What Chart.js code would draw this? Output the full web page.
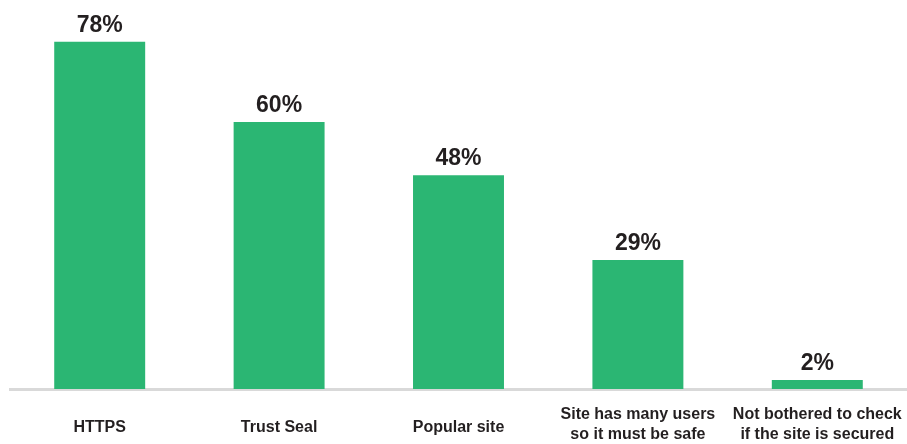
<!DOCTYPE html>
<html>
<head>
<meta charset="utf-8">
<script src="https://cdn.jsdelivr.net/npm/chart.js@4"></script>
<style>
  html, body { margin: 0; padding: 0; background: #ffffff; }
  #wrap { width: 907px; height: 444px; position: relative; }
</style>
</head>
<body>
<div id="wrap"><canvas id="chart"></canvas></div>
<script>
// Security signals people look for before trusting a site
const categories = [
  'HTTPS',
  'Trust Seal',
  'Popular site',
  ['Site has many users', 'so it must be safe'],
  ['Not bothered to check', 'if the site is secured']
];
const shares = [78, 60, 48, 29, 2];

const BAR_GREEN = '#2bb673';
const TEXT_DARK = '#231f20';
const FONT_FAMILY = '"Liberation Sans", Arial, Helvetica, sans-serif';

// Writes each bar's percentage just above it
const valueLabels = {
  id: 'valueLabels',
  afterDatasetsDraw(chart) {
    const { ctx } = chart;
    const meta = chart.getDatasetMeta(0);
    ctx.save();
    ctx.font = 'bold 23px ' + FONT_FAMILY;
    ctx.fillStyle = TEXT_DARK;
    ctx.textAlign = 'center';
    ctx.textBaseline = 'alphabetic';
    meta.data.forEach((bar, i) => {
      ctx.fillText(shares[i] + '%', bar.x, bar.y - 10);
    });
    ctx.restore();
  }
};

new Chart(document.getElementById('chart'), {
  type: 'bar',
  data: {
    labels: categories,
    datasets: [{
      data: shares,
      backgroundColor: BAR_GREEN,
      borderWidth: 0,
      barPercentage: 0.507,
      categoryPercentage: 1.0
    }]
  },
  options: {
    responsive: true,
    maintainAspectRatio: false,
    animation: false,
    layout: { padding: { left: 10, right: 0, top: 0, bottom: 0 } },
    plugins: {
      legend: { display: false },
      tooltip: { enabled: false }
    },
    scales: {
      x: {
        z: 1,
        grid: { display: false, drawTicks: false },
        border: { display: true, color: '#d9d9d9', width: 3 },
        ticks: {
          color: TEXT_DARK,
          // single-line labels sit a little lower than the centre of the two-line ones
          font: (ctx) => ({
            family: FONT_FAMILY,
            size: 16,
            weight: 'bold',
            lineHeight: Array.isArray(categories[ctx.index]) ? 1.2 : 0.8
          }),
          crossAlign: 'center',
          padding: 26,
          maxRotation: 0,
          autoSkip: false
        },
        afterFit(scale) {
          // fixed label band under the baseline, no side padding for wide labels
          scale.height = 55;
          scale.paddingLeft = 0;
          scale.paddingRight = 0;
        }
      },
      y: {
        display: false,
        min: 0,
        max: 87.4
      }
    }
  },
  plugins: [valueLabels]
});
</script>
</body>
</html>
